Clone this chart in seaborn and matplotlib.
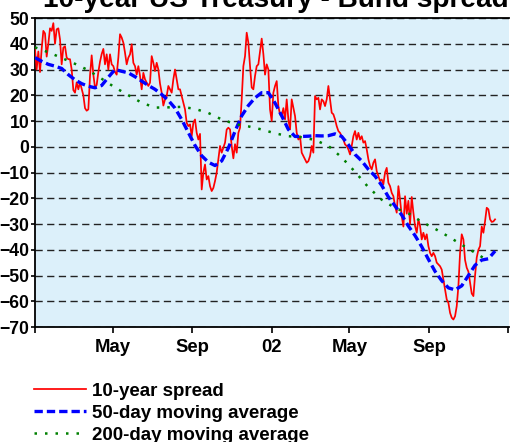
import matplotlib
matplotlib.use("Agg")
import matplotlib.pyplot as plt
import matplotlib.dates as mdates
from matplotlib.lines import Line2D
import seaborn as sns
import pandas as pd

# ---------------- data ----------------
spread_start, spread_end = "2001-01-01", "2002-12-12"
spread = [
    37.8, 30, 37, 29, 38, 45, 44, 35, 40, 46, 45, 48, 40, 45.6, 46, 41.7, 32, 38.5, 39, 34.6,
    34, 34, 30, 22, 21, 25, 22.3, 25, 22.5, 20, 15, 14, 14.5, 27.5, 35.5, 28, 23, 24, 29, 33,
    36, 38, 32, 35.9, 30, 35.9, 32, 31.3, 29, 28, 34.6, 43.7, 42.4, 40.4, 36.5, 32, 34.6, 35.9, 39.8, 32.6,
    31.3, 28, 31.3, 27.5, 22.3, 28.7, 26.2, 24.9, 23.6, 24.9, 35.2, 32.6, 29.4, 32.6, 30, 24.5, 21, 16, 18.4, 19.7,
    23.6, 22.3, 21, 26.2, 30, 26.2, 22.3, 22.3, 19.7, 17.1, 14.5, 9.3, 8, 8.7, 4.1, 9.3, 10.6, 5.4, 2.8, 5,
    -16.6, -10, -6.9, -12.7, -11.4, -15.3, -17.2, -16, -13.3, -10, -4.9, 0.3, -2.3, -0.4, 1.6, 6.7, 7.4, 6.7, 0.3, -4.5,
    1, -2.3, 5.4, 7.4, 18.4, 31.3, 35.2, 44.3, 40.4, 31.3, 23, 22.3, 27.5, 31.3, 32, 37, 42, 36, 28, 32,
    30, 14.5, 10, 21, 23.6, 25.5, 15.8, 12.5, 12, 15, 10.6, 18.4, 10.6, 6.7, 18.4, 15.2, 11.9, 5.4, 2.8, 4.1,
    -2.3, -3.6, -4.9, -6.2, -5.6, -3.6, 0.3, -2.3, 19.7, 18.4, 19, 14.5, 18.4, 17.7, 15.8, 18.4, 23.6, 18.4, 13.2, 12.6,
    10.6, 8, 6.1, 5.4, 4.1, 2.8, 0.9, 0.3, -1, -3, 0.3, 4.1, 6.1, 2.8, 5.4, 2.8, 4.1, 1.6, 2.2, -1,
    -4.9, -7.5, -8.8, -6.2, -4.9, -9.5, -11.4, -13.3, -12.7, -14.6, -10, -8.2, -14, -15.3, -17.9, -19.2, -23, -25.6, -15.3, -20.5,
    -26.9, -31, -19.2, -26, -21, -30, -19.5, -25.6, -30.8, -33.4, -28.2, -30.8, -36, -33.4, -36, -34, -38.6, -41.2, -42.5, -41.2,
    -42.5, -45, -45.7, -46.4, -47.7, -51.6, -55.4, -59.3, -60.6, -64.5, -66.4, -67.1, -65.8, -61.9, -54.1, -41.2, -34, -36, -44, -47,
    -48.5, -52.8, -57, -58, -50, -43, -40, -38.6, -31, -33.4, -28.9, -23.7, -24.3, -28.2, -29.2, -29, -28.2,
]

ma50_start, ma50_end = "2001-01-01", "2002-12-12"
ma50 = [
    34.6, 33.2, 32, 31.3, 30.4, 28, 26, 24.5, 23.5, 22.9, 23.8, 27, 30, 29.3, 28.7, 27.2, 25.5, 23.8, 22.3, 20.3,
    18, 15, 10.6, 5.5, 0.5, -3.5, -6, -7.3, -5.5, -0.5, 6, 12, 16, 19, 21, 21, 17, 12, 6.7, 4,
    4, 4.1, 4.3, 4.2, 4.3, 5, 4, 0.8, -3, -5.5, -8.8, -11.4, -15, -19.5, -23, -26.5, -30.8, -34.5, -38.8, -43.7,
    -48.4, -52, -54.8, -55.6, -54, -50, -46, -44, -43.5, -40.5,
]

ma200_start, ma200_end = "2001-01-01", "2002-12-02"
ma200 = [
    38.6, 36.7, 34.5, 32.2, 29.7, 26.4, 23, 20, 17.1, 15.2, 15.3, 15.5, 14.7, 13.1, 10.6, 8.8, 7.9, 6.7, 5.2, 4.1,
    3.7, 2.6, 0.3, -4.2, -9.8, -15.8, -20.6, -23.8, -25.9, -29.2, -31.9, -34.9, -38.1, -41.2, -44.4,
]

series_labels = ["10-year spread", "50-day moving average", "200-day moving average"]
x_tick_labels = ["", "May", "Sep", "02", "May", "Sep", ""]
title = "10-year US Treasury - Bund spread"

d_spread = pd.date_range(spread_start, spread_end, periods=len(spread))
d_ma50 = pd.date_range(ma50_start, ma50_end, periods=len(ma50))
d_ma200 = pd.date_range(ma200_start, ma200_end, periods=len(ma200))

# ---------------- figure ----------------
plt.rcParams["font.family"] = ["Liberation Sans", "DejaVu Sans"]
plt.rcParams["font.weight"] = "bold"

W, H = 512, 442
fig = plt.figure(figsize=(W / 100, H / 100), dpi=100)
fig.patch.set_facecolor("white")
ax = fig.add_axes([35 / W, 1 - 327 / H, (509 - 35) / W, (327 - 18) / H])
ax.set_facecolor("#DCF0FA")

red, blue, green = "#FF0000", "#0000FF", "#008000"
sns.lineplot(x=d_spread, y=spread, ax=ax, color=red, linewidth=1.25, legend=False, zorder=3)
sns.lineplot(x=d_ma50, y=ma50, ax=ax, color=blue, linewidth=2.4,
             linestyle=(0, (2.5, 1.2)), legend=False, zorder=4)
sns.lineplot(x=d_ma200, y=ma200, ax=ax, color=green, linewidth=1.8,
             linestyle=(0, (1, 3.2)), legend=False, zorder=4)

ax.set_ylim(-70, 50)
ax.set_yticks(range(-70, 51, 10))
ax.set_xlim(pd.Timestamp("2001-01-01"), pd.Timestamp("2003-01-02 12:00"))
ax.xaxis.set_major_locator(mdates.MonthLocator(bymonth=[1, 5, 9]))
ax.set_xticklabels(x_tick_labels)
ax.xaxis.set_minor_locator(mdates.YearLocator())

grid_kw = dict(color="#222222", linewidth=1.0, linestyle=(0, (5.2, 3.2)))
ax.yaxis.grid(True, which="major", **grid_kw)
ax.xaxis.grid(True, which="minor", **grid_kw)
ax.xaxis.grid(False, which="major")
ax.set_axisbelow(True)

ax.tick_params(axis="y", which="major", direction="out", length=3, width=1.2,
               pad=1, labelsize=12.7, colors="black")
ax.tick_params(axis="x", which="major", direction="out", length=4, width=1.2,
               pad=5, labelsize=13.3, colors="black")
ax.tick_params(axis="x", which="minor", length=0)
for lab in ax.get_xticklabels() + ax.get_yticklabels():
    lab.set_fontweight("bold")

for side in ["left", "bottom", "top"]:
    ax.spines[side].set_color("black")
    ax.spines[side].set_linewidth(1.3)
ax.spines["right"].set_visible(False)
ax.set_xlabel("")
ax.set_ylabel("")

fig.text(43 / W, 1 - 7.3 / H, title, fontsize=20.2, fontweight="bold",
         ha="left", va="baseline")

handles = [
    Line2D([], [], color=red, linewidth=1.25),
    Line2D([], [], color=blue, linewidth=2.4, linestyle=(0, (2.5, 1.2))),
    Line2D([], [], color=green, linewidth=1.8, linestyle=(0, (1, 3.2))),
]
fig.legend(handles, series_labels, loc="upper left",
           bbox_to_anchor=(30 / W, 1 - 379 / H), frameon=False,
           prop={"size": 13.5, "weight": "bold"}, handlelength=2.77,
           handletextpad=0.32, labelspacing=0.25, borderaxespad=0, borderpad=0.2)

fig.savefig("out.png", dpi=100)
